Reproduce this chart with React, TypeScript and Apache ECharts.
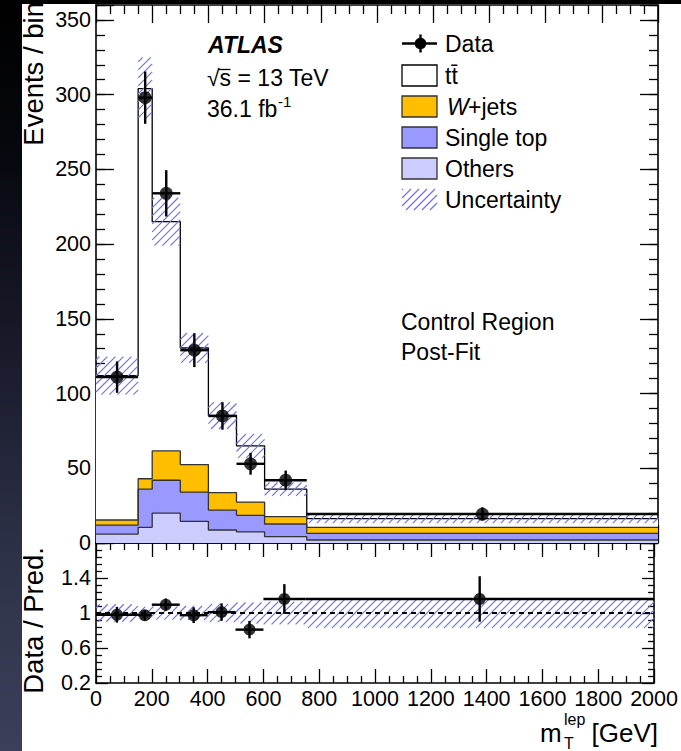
import React, { useEffect, useRef } from 'react';
import * as echarts from 'echarts';

// ---------------- data ----------------
const binEdges = [0, 150, 200, 300, 400, 500, 600, 750, 2000];
const ttbar = [96.6, 261, 153.4, 78, 51.6, 37.6, 18.4, 5.8];
const wjets = [3.4, 7, 19.6, 18.5, 11.7, 8.9, 4.9, 4];
const singleTop = [6, 25.5, 22, 19.5, 13.3, 11.1, 8.5, 4.5];
const others = [6, 10.5, 20, 14.5, 8.7, 7.4, 4.2, 2];
const uncertainty = [12.7, 21, 16, 10, 9, 8, 4.5, 3];
const dataValues = [111, 298, 234, 129, 85, 53, 42, 19.4];
const dataErrors = [10.5, 17.5, 15.5, 11.3, 9.2, 7.3, 6.5, 4.4];
const ratioValues = [0.98, 0.975, 1.095, 0.975, 1.01, 0.81, 1.16, 1.16];
const ratioErrors = [0.09, 0.06, 0.07, 0.09, 0.1, 0.1, 0.17, 0.26];
const ratioUncertainty = [0.1, 0.07, 0.075, 0.08, 0.105, 0.12, 0.13, 0.17];
const legendLabels = ['Data', 't\u0074\u0304', 'W', '+jets', 'Single top', 'Others', 'Uncertainty'];

// ---------------- style ----------------
const W = 681;
const H = 751;
const FONT = "'Liberation Sans', Arial, Helvetica, sans-serif";
const C_W = '#ffbf00';
const C_ST = '#9999ff';
const C_OT = '#ccccff';
const C_HATCH = '#7070ff';

const nBins = binEdges.length - 1;
const lows = binEdges.slice(0, nBins);
const highs = binEdges.slice(1);
const centers = lows.map((l, i) => (l + highs[i]) / 2);

const sumArr = (...arrs: number[][]) => arrs[0].map((_, i) => arrs.reduce((s, a) => s + a[i], 0));
const cumOthers = others;
const cumST = sumArr(others, singleTop);
const cumW = sumArr(others, singleTop, wjets);
const cumTotal = sumArr(others, singleTop, wjets, ttbar);

const stepData = (vals: number[]) => [
  ...lows.map((e, i) => [e, vals[i]]),
  [binEdges[nBins], vals[nBins - 1]],
];

function hatchLines(left: number, top: number, right: number, bottom: number, spacing: number, style: any) {
  const out: any[] = [];
  const start = Math.ceil((left + top) / spacing) * spacing;
  for (let c = start; c <= right + bottom; c += spacing) {
    const xa = Math.max(left, c - bottom);
    const xb = Math.min(right, c - top);
    if (xb - xa > 0.5) out.push({ type: 'line', shape: { x1: xa, y1: c - xa, x2: xb, y2: c - xb }, style });
  }
  return out;
}

const hatchStyle = { stroke: C_HATCH, lineWidth: 1.2 };

function hatchItem(params: any, api: any) {
  const a = api.coord([api.value(0), api.value(3)]);
  const b = api.coord([api.value(1), api.value(2)]);
  return { type: 'group', children: hatchLines(a[0], a[1], b[0], b[1], 8, hatchStyle) };
}

function errItem(params: any, api: any) {
  const x1 = api.value(0), x2 = api.value(1), xc = api.value(2), v = api.value(3), e = api.value(4);
  const a = api.coord([x1, v]);
  const b = api.coord([x2, v]);
  const c = api.coord([xc, v + e]);
  const d = api.coord([xc, v - e]);
  const st = { stroke: '#000', lineWidth: 2.4 };
  return {
    type: 'group',
    children: [
      { type: 'line', shape: { x1: a[0], y1: a[1], x2: b[0], y2: b[1] }, style: st },
      { type: 'line', shape: { x1: c[0], y1: c[1], x2: d[0], y2: d[1] }, style: st },
    ],
  };
}

const axisLineStyle = { show: true, onZero: false, lineStyle: { color: '#000', width: 1.6 } };
const tickLine = { color: '#000', width: 1.3 };

function xAx(grid: number, pos: string, major: number, minor: number, labels: boolean) {
  return {
    type: 'value', gridIndex: grid, position: pos, min: 0, max: 2000, interval: 200,
    axisLine: axisLineStyle,
    axisTick: { show: true, inside: true, length: major, lineStyle: tickLine },
    minorTick: { show: true, splitNumber: 4, length: minor, lineStyle: tickLine },
    splitLine: { show: false }, minorSplitLine: { show: false },
    axisLabel: labels
      ? { show: true, fontFamily: FONT, fontSize: 21.5, color: '#000', margin: 5, formatter: (v: number) => String(v) }
      : { show: false },
  };
}

function yTop(pos: string, interval: number, len: number, labels: boolean, line: boolean) {
  return {
    type: 'value', gridIndex: 0, position: pos, min: 0, max: 360, interval,
    axisLine: line ? axisLineStyle : { show: false, onZero: false },
    axisTick: { show: true, inside: true, length: len, lineStyle: tickLine },
    splitLine: { show: false },
    axisLabel: labels
      ? {
          show: true, fontFamily: FONT, fontSize: 21.5, color: '#000', margin: 5,
          formatter: (v: number) => (Math.round(v) % 50 === 0 && v <= 350 ? String(Math.round(v)) : ''),
        }
      : { show: false },
  };
}

function yRatio(pos: string, labels: boolean) {
  return {
    type: 'value', gridIndex: 1, position: pos, min: 0.2, max: 1.8, interval: 0.4,
    axisLine: axisLineStyle,
    axisTick: { show: true, inside: true, length: 12, lineStyle: tickLine },
    minorTick: { show: true, splitNumber: 5, length: 6, lineStyle: tickLine },
    splitLine: { show: false }, minorSplitLine: { show: false },
    axisLabel: labels
      ? {
          show: true, fontFamily: FONT, fontSize: 21.5, color: '#000', margin: 5,
          formatter: (v: number) => (v > 1.7 ? '' : String(Number(v.toFixed(1)))),
        }
      : { show: false },
  };
}

function areaLayer(vals: number[], fill: string, stroke: string) {
  return {
    type: 'line', xAxisIndex: 0, yAxisIndex: 0, data: stepData(vals), step: 'end',
    symbol: 'none', silent: true,
    lineStyle: { color: stroke, width: 1.3 },
    areaStyle: { color: fill, opacity: 1 },
  };
}

function txt(text: string, x: number, y: number, size: number, extra: any = {}) {
  return {
    type: 'text', x, y, silent: true, ...extra,
    style: {
      text, fontFamily: FONT, fontSize: size, fill: '#000', align: 'left', verticalAlign: 'middle',
      ...(extra.style || {}),
    },
  };
}

function buildLegend() {
  const bx = 402, bw = 35, bh = 21;
  const ys = [43.5, 75.5, 106.5, 137.5, 168.5, 199.5];
  const els: any[] = [];
  // Data marker
  els.push({ type: 'line', shape: { x1: bx, y1: ys[0], x2: bx + bw, y2: ys[0] }, style: { stroke: '#000', lineWidth: 2.4 } });
  els.push({ type: 'line', shape: { x1: bx + 18.5, y1: ys[0] - 9, x2: bx + 18.5, y2: ys[0] + 9 }, style: { stroke: '#000', lineWidth: 2.4 } });
  els.push({ type: 'circle', shape: { cx: bx + 18.5, cy: ys[0], r: 5.8 }, style: { fill: '#000' } });
  const boxes = [
    ['#ffffff', '#000'],
    [C_W, '#333'],
    [C_ST, '#333'],
    [C_OT, '#333'],
  ];
  boxes.forEach((b, i) => {
    els.push({
      type: 'rect', shape: { x: bx, y: ys[i + 1] - bh / 2, width: bw, height: bh },
      style: { fill: b[0], stroke: b[1], lineWidth: 1.3 },
    });
  });
  els.push(...hatchLines(bx, ys[5] - bh / 2, bx + bw, ys[5] + bh / 2, 8, hatchStyle));
  const tx = 445;
  els.push(txt(legendLabels[0], tx, ys[0], 23));
  els.push(txt(legendLabels[1], tx, ys[1], 23));
  els.push(txt(legendLabels[2], tx + 2, ys[2], 23, { style: { fontStyle: 'italic' } }));
  els.push(txt(legendLabels[3], tx + 23, ys[2], 23));
  els.push(txt(legendLabels[4], tx, ys[3], 23));
  els.push(txt(legendLabels[5], tx, ys[4], 23));
  els.push(txt(legendLabels[6], tx, ys[5], 23));
  return els;
}

function buildOption(): any {
  const hatchTop = lows.map((l, i) => [l, highs[i], cumTotal[i] - uncertainty[i], cumTotal[i] + uncertainty[i]]);
  const hatchRatio = lows.map((l, i) => [l, highs[i], 1 - ratioUncertainty[i], 1 + ratioUncertainty[i]]);
  const errTop = lows.map((l, i) => [l, highs[i], centers[i], dataValues[i], dataErrors[i]]);
  const errRatio = lows.map((l, i) => [l, highs[i], centers[i], ratioValues[i], ratioErrors[i]]);

  return {
    animation: false,
    backgroundColor: 'transparent',
    grid: [
      { left: 96, top: 5, width: 562, height: 538 },
      { left: 96, top: 543, width: 562, height: 140 },
    ],
    xAxis: [
      xAx(0, 'bottom', 18, 9, false),
      xAx(0, 'top', 18, 9, false),
      xAx(1, 'bottom', 14, 7, true),
      xAx(1, 'top', 14, 7, false),
    ],
    yAxis: [
      yTop('left', 50, 18, true, true),
      yTop('left', 10, 9, false, false),
      yTop('right', 50, 18, false, true),
      yTop('right', 10, 9, false, false),
      yRatio('left', true),
      yRatio('right', false),
    ],
    series: [
      areaLayer(cumTotal, '#ffffff', '#000'),
      areaLayer(cumW, C_W, '#333'),
      areaLayer(cumST, C_ST, '#333'),
      areaLayer(cumOthers, C_OT, '#333'),
      {
        type: 'custom', xAxisIndex: 0, yAxisIndex: 0, renderItem: hatchItem, data: hatchTop,
        encode: { x: [0, 1], y: [2, 3] }, silent: true, z: 5,
      },
      {
        type: 'custom', xAxisIndex: 0, yAxisIndex: 0, renderItem: errItem, data: errTop,
        encode: { x: [0, 1], y: [3] }, silent: true, z: 6,
      },
      {
        type: 'scatter', xAxisIndex: 0, yAxisIndex: 0, symbolSize: 13, silent: true, z: 7,
        itemStyle: { color: '#000' }, data: centers.map((c, i) => [c, dataValues[i]]),
      },
      {
        type: 'custom', xAxisIndex: 2, yAxisIndex: 4, renderItem: hatchItem, data: hatchRatio,
        encode: { x: [0, 1], y: [2, 3] }, silent: true, z: 5,
      },
      {
        type: 'line', xAxisIndex: 2, yAxisIndex: 4, data: [[0, 1], [2000, 1]], symbol: 'none', silent: true, z: 5,
        lineStyle: { color: '#000', width: 2, type: [5, 4] },
      },
      {
        type: 'custom', xAxisIndex: 2, yAxisIndex: 4, renderItem: errItem, data: errRatio,
        encode: { x: [0, 1], y: [3] }, silent: true, z: 6,
      },
      {
        type: 'scatter', xAxisIndex: 2, yAxisIndex: 4, symbolSize: 12, silent: true, z: 7,
        itemStyle: { color: '#000' }, data: centers.map((c, i) => [c, ratioValues[i]]),
      },
    ],
    graphic: [
      txt('Events / bin', 33, 2, 27.5, { rotation: Math.PI / 2, style: { align: 'right' } }),
      txt('Data / Pred.', 33, 547, 27.5, { rotation: Math.PI / 2, style: { align: 'right' } }),
      txt('ATLAS', 208, 45, 23, { style: { fontWeight: 'bold', fontStyle: 'italic' } }),
      txt('\u221As = 13 TeV', 207, 77.5, 23),
      { type: 'line', silent: true, shape: { x1: 218.5, y1: 69.5, x2: 230.5, y2: 69.5 }, style: { stroke: '#000', lineWidth: 1.3 } },
      txt('36.1 fb', 207, 109, 23),
      txt('-1', 278, 101, 15),
      txt('Control Region', 401, 322, 23),
      txt('Post-Fit', 401, 352, 23),
      txt('m', 540, 733, 26),
      txt('lep', 564, 719.5, 16),
      txt('T', 564, 743, 16),
      txt('[GeV]', 658, 733, 26, { style: { align: 'right' } }),
      ...buildLegend(),
    ],
  };
}

export default function App() {
  const ref = useRef<HTMLDivElement>(null);
  useEffect(() => {
    document.body.style.margin = '0';
    const chart = echarts.init(ref.current as HTMLDivElement, undefined, { renderer: 'svg', width: W, height: H });
    chart.setOption(buildOption());
    return () => chart.dispose();
  }, []);
  return (
    <div style={{ position: 'fixed', left: 0, top: 0, width: W, height: H, background: '#fff', overflow: 'hidden' }}>
      <div ref={ref} style={{ position: 'absolute', left: 0, top: 0, width: W, height: H }} />
      <div
        style={{
          position: 'absolute', left: 0, top: 0, width: 22, height: H,
          background: 'linear-gradient(to bottom, #000 0%, #07080e 20%, #1b1d2e 50%, #2e3249 75%, #3b3f5a 100%)',
        }}
      />
      <div style={{ position: 'absolute', left: 0, top: 0, width: W, height: 4, background: '#000' }} />
    </div>
  );
}
